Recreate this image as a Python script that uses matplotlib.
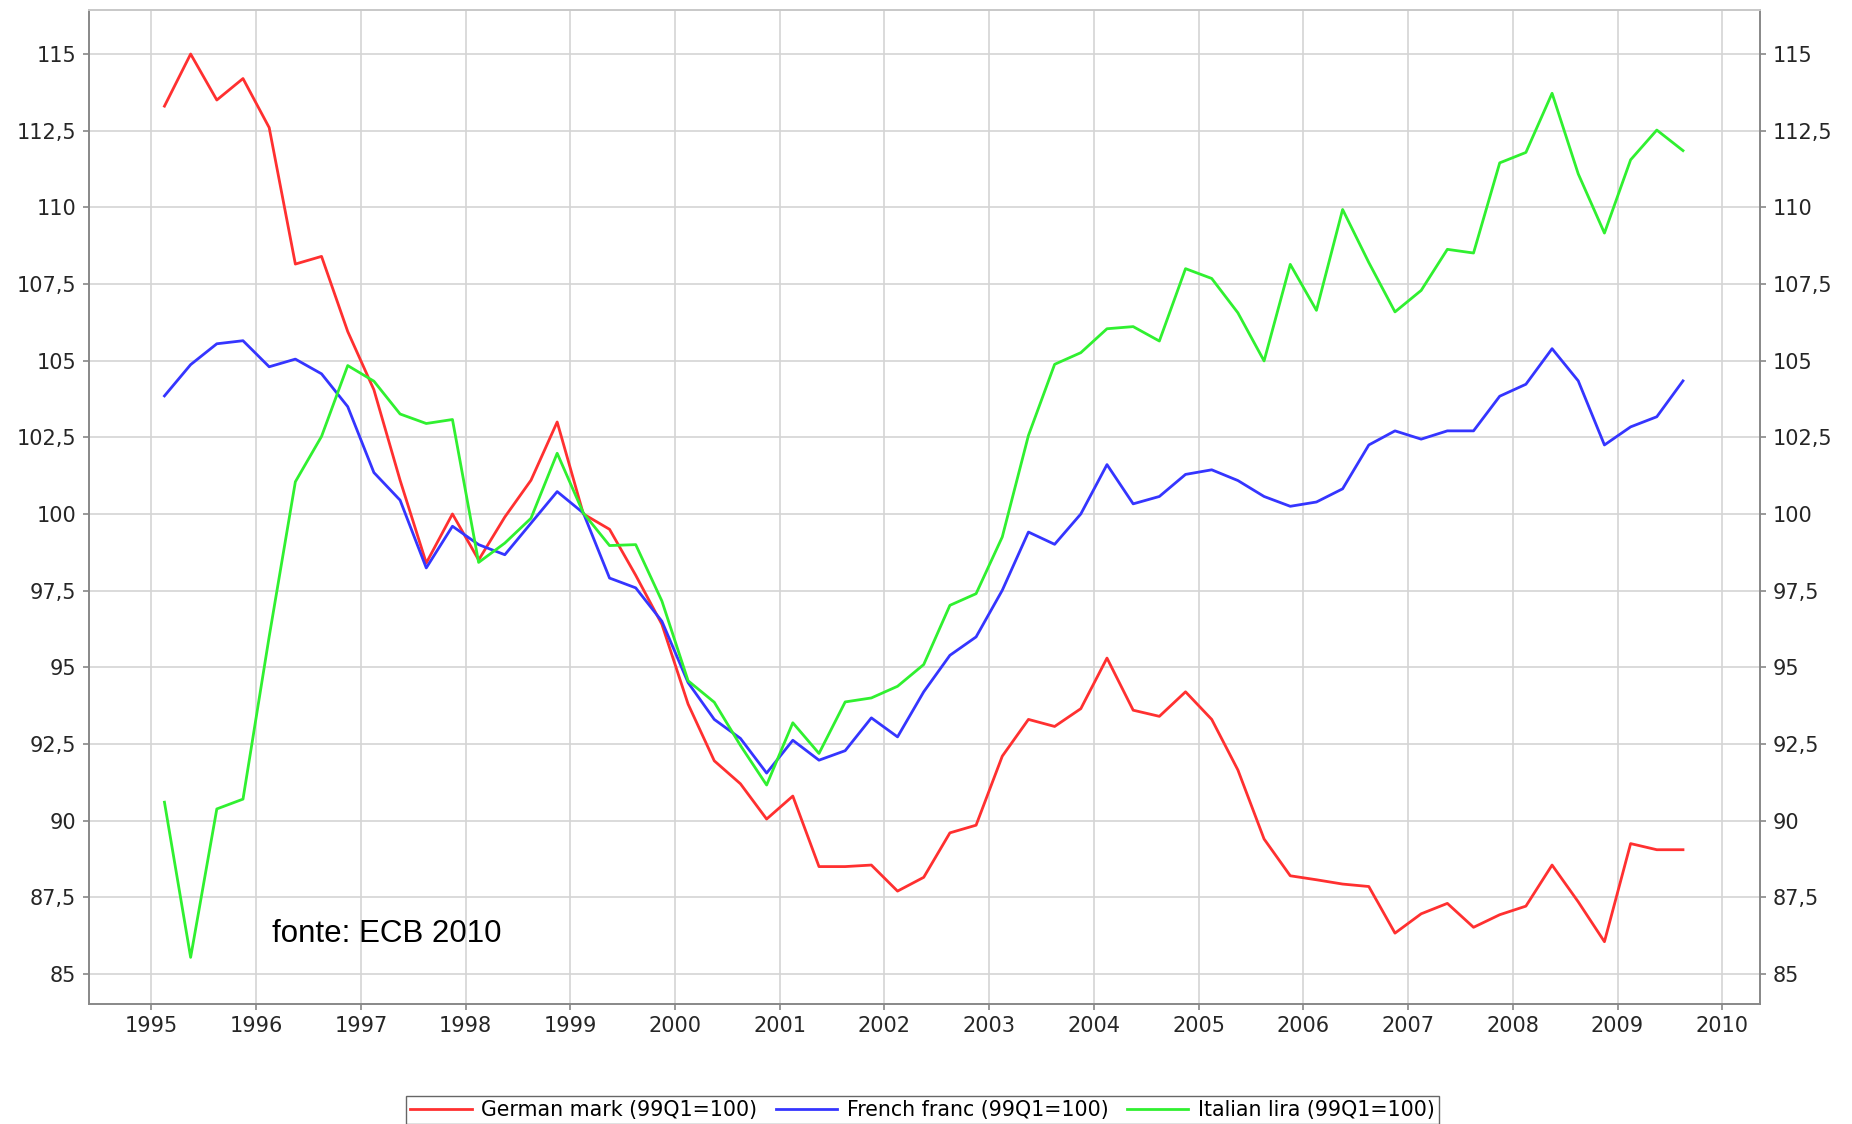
import matplotlib.pyplot as plt
from matplotlib.ticker import FuncFormatter, MultipleLocator

# trimestri 1995Q1 - 2009Q3, disegnati a metà trimestre
start_year = 1995
n_quarters = 59
quarters = [start_year + 0.125 + 0.25 * i for i in range(n_quarters)]

german_mark = [113.3, 115.0, 113.5, 114.2, 112.6, 108.15, 108.4, 105.95, 104.05, 101.1,
               98.4, 100.0, 98.5, 99.9, 101.1, 103.0, 100.0, 99.5, 98.0, 96.4,
               93.8, 91.95, 91.2, 90.05, 90.8, 88.5, 88.5, 88.55, 87.7, 88.15,
               89.6, 89.85, 92.1, 93.3, 93.07, 93.65, 95.3, 93.6, 93.4, 94.2,
               93.3, 91.65, 89.4, 88.2, 88.07, 87.93, 87.85, 86.33, 86.96, 87.3,
               86.52, 86.93, 87.21, 88.55, 87.35, 86.05, 89.25, 89.05, 89.05]

french_franc = [103.85, 104.87, 105.55, 105.65, 104.8, 105.05, 104.57, 103.5, 101.35, 100.45,
                98.24, 99.6, 99.0, 98.67, 99.7, 100.73, 100.03, 97.91, 97.59, 96.5,
                94.5, 93.3, 92.68, 91.55, 92.62, 91.97, 92.28, 93.35, 92.73, 94.2,
                95.39, 95.99, 97.51, 99.41, 99.01, 100.0, 101.61, 100.33, 100.57, 101.29,
                101.44, 101.09, 100.57, 100.25, 100.39, 100.82, 102.25, 102.71, 102.44, 102.71,
                102.71, 103.84, 104.23, 105.39, 104.34, 102.25, 102.84, 103.17, 104.34]

italian_lira = [90.6, 85.54, 90.38, 90.7, 96.0, 101.05, 102.53, 104.84, 104.33, 103.26,
                102.95, 103.08, 98.42, 99.05, 99.86, 101.98, 100.03, 98.97, 99.0, 97.16,
                94.56, 93.86, 92.45, 91.16, 93.19, 92.19, 93.87, 94.0, 94.38, 95.09,
                97.02, 97.4, 99.25, 102.56, 104.88, 105.26, 106.04, 106.11, 105.64, 108.0,
                107.68, 106.56, 104.99, 108.14, 106.64, 109.93, 108.2, 106.59, 107.29, 108.63,
                108.51, 111.45, 111.79, 113.72, 111.09, 109.16, 111.55, 112.52, 111.85]

labels = ['German mark (99Q1=100)', 'French franc (99Q1=100)', 'Italian lira (99Q1=100)']
colors = ['#ff3030', '#3535ff', '#30f030']
year_ticks = list(range(1995, 2011))


def fmt_comma(v, pos):
    # 112.5 -> "112,5", 115.0 -> "115"
    if abs(v - round(v)) < 1e-6:
        return '%d' % round(v)
    return ('%.1f' % v).replace('.', ',')


fig = plt.figure(figsize=(18.52, 11.24), dpi=100, facecolor='white')
ax = fig.add_axes([0.0478, 0.1068, 0.9025, 0.8847])

for serie, lab, col in zip([german_mark, french_franc, italian_lira], labels, colors):
    ax.plot(quarters, serie, color=col, linewidth=2.0, label=lab)

ax.set_xlim(1994.40, 2010.36)
ax.set_ylim(84.02, 116.45)
ax.set_xticks(year_ticks)
ax.yaxis.set_major_locator(MultipleLocator(2.5))
ax.yaxis.set_major_formatter(FuncFormatter(fmt_comma))

ax.grid(True, color='#d4d4d4', linewidth=1.2)
ax.set_axisbelow(True)
for s in ['left', 'right', 'bottom', 'top']:
    ax.spines[s].set_color('#888888')
    ax.spines[s].set_linewidth(1.4)
ax.spines['top'].set_color('#c8c8c8')

ax.tick_params(axis='both', direction='out', length=4, width=1.2, color='#888888',
               labelsize=15, labelcolor='#262626', pad=5)
ax.tick_params(axis='y', right=True, labelright=True)

ax.text(1996.15, 86.3, 'fonte: ECB 2010', fontsize=22.5, family='Liberation Sans',
        ha='left', va='center', color='black')

fig.legend(loc='center', bbox_to_anchor=(0.498, 0.0125), ncol=3, fontsize=14.8,
           frameon=True, fancybox=False, edgecolor='#666666', framealpha=1,
           handlelength=3.0, columnspacing=0.9, handletextpad=0.45, borderpad=0.2)

plt.savefig('out.png', dpi=100, facecolor='white')
